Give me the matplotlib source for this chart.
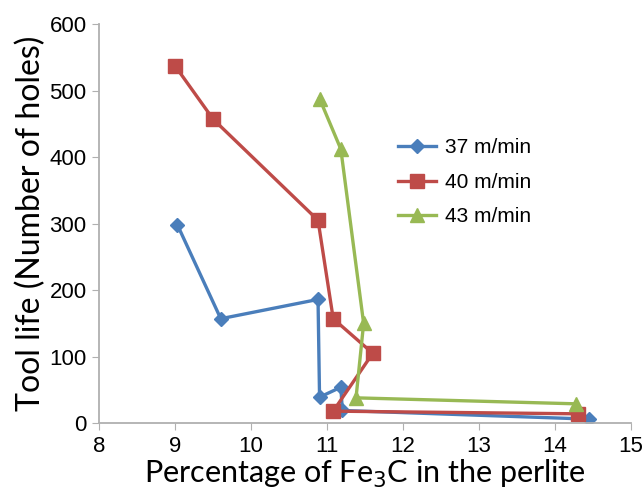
import numpy as np
import matplotlib.pyplot as plt

# данные
x37 = [9.03, 9.6, 10.88, 10.9, 11.18, 11.2, 14.45]
y37 = [298, 157, 186, 39, 54, 19, 6]

x40 = [9.0, 9.5, 10.88, 11.08, 11.6, 11.08, 14.3]
y40 = [537, 457, 305, 157, 105, 18, 14]

x43 = [10.9, 11.18, 11.48, 11.38, 14.28]
y43 = [488, 412, 150, 38, 29]

labels = ['37 m/min', '40 m/min', '43 m/min']

plt.rcParams['font.family'] = ['Liberation Sans', 'DejaVu Sans']

fig = plt.figure(figsize=(6.44, 4.92), dpi=100)
ax = fig.add_axes([0.154, 0.140, 0.826, 0.811])

ax.plot(x37, y37, color='#4a7ebb', lw=2.4, marker='D', ms=7, label=labels[0])
ax.plot(x40, y40, color='#be4b48', lw=2.4, marker='s', ms=10, label=labels[1])
ax.plot(x43, y43, color='#98b954', lw=2.4, marker='^', ms=10, label=labels[2])

ax.set_xlim(8, 15)
ax.set_ylim(0, 600)
ax.set_xticks(np.arange(8, 16, 1))
ax.set_yticks(np.arange(0, 700, 100))
ax.tick_params(labelsize=16, direction='out', length=5, color='#b0b0b0', pad=4)

for s in ['top', 'right']:
    ax.spines[s].set_visible(False)
for s in ['left', 'bottom']:
    ax.spines[s].set_color('#b0b0b0')
    ax.spines[s].set_linewidth(1.3)

ax.set_xlabel('Percentage of Fe$_3$C in the perlite', fontsize=22, family='Lato', labelpad=1)
ax.set_ylabel('Tool life (Number of holes)', fontsize=23, family='Lato', labelpad=2)

ax.legend(loc='upper left', bbox_to_anchor=(0.562, 0.714), frameon=False, fontsize=15,
          borderpad=0, borderaxespad=0, handlelength=1.8, handletextpad=0.45,
          labelspacing=0.75)

plt.savefig('out.png', dpi=100)
